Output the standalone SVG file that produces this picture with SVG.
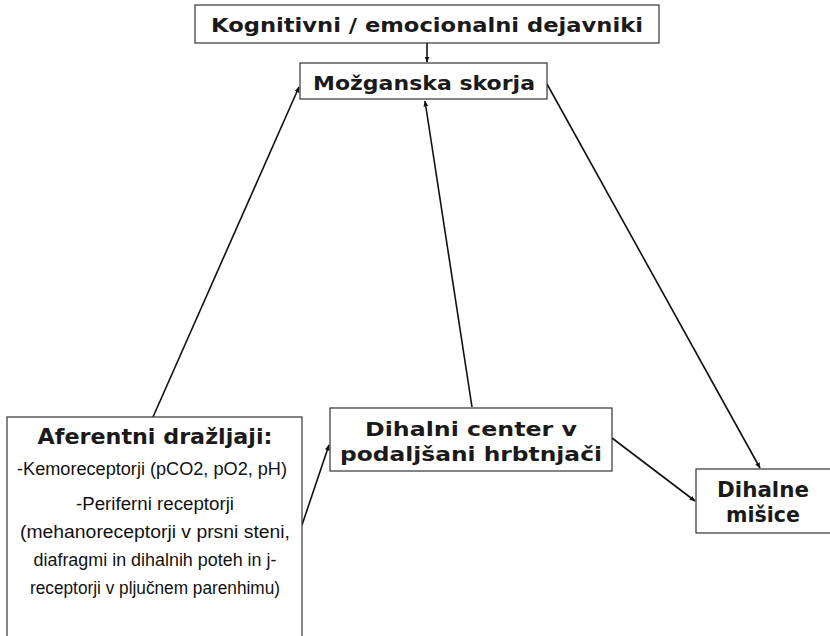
<svg xmlns="http://www.w3.org/2000/svg" width="830" height="636" viewBox="0 0 830 636">
<style>
.box{fill:#fff;stroke:#333;stroke-width:1.2}
.h{font-family:"DejaVu Sans",Verdana,sans-serif;font-weight:bold;fill:#1a1a1a;text-anchor:middle}
.b{font-family:"Liberation Sans",Arial,sans-serif;fill:#111;text-anchor:middle;font-size:17.5px}
.c{stroke:#111;stroke-width:1.6;fill:none;marker-end:url(#ah)}
</style>
<defs>
<marker id="ah" viewBox="0 0 10 10" refX="9" refY="5" markerWidth="6" markerHeight="6" orient="auto" markerUnits="userSpaceOnUse">
<path d="M0,1 L10,5 L0,9 z" fill="#111"/>
</marker>
</defs>
<rect width="830" height="636" fill="#fff"/>
<g id="connectors">
<line class="c" x1="427" y1="43" x2="427" y2="62"/>
<line class="c" x1="153" y1="417" x2="299" y2="87"/>
<line class="c" x1="472" y1="407" x2="425" y2="101"/>
<line class="c" x1="547" y1="84" x2="760" y2="468"/>
<line class="c" x1="302" y1="525" x2="329" y2="445"/>
<line class="c" x1="612" y1="438" x2="695" y2="501"/>
</g>
<g id="kognitivni">
<rect class="box" x="195" y="5" width="464" height="38"/>
<text class="h" x="427" y="32" font-size="20" textLength="432" lengthAdjust="spacingAndGlyphs">Kognitivni / emocionalni dejavniki</text>
</g>
<g id="mozganska">
<rect class="box" x="300" y="63" width="247" height="36"/>
<text class="h" x="424" y="90" font-size="20" textLength="222" lengthAdjust="spacingAndGlyphs">Možganska skorja</text>
</g>
<g id="aferentni">
<rect class="box" x="7" y="417" width="295" height="225"/>
<text class="h" x="155" y="444" font-size="22" textLength="235" lengthAdjust="spacingAndGlyphs">Aferentni dražljaji:</text>
<text class="b" x="152" y="475" textLength="270" lengthAdjust="spacingAndGlyphs">-Kemoreceptorji (pCO2, pO2, pH)</text>
<text class="b" x="155" y="510" textLength="158" lengthAdjust="spacingAndGlyphs">-Periferni receptorji</text>
<text class="b" x="155" y="538" textLength="270" lengthAdjust="spacingAndGlyphs">(mehanoreceptorji v prsni steni,</text>
<text class="b" x="155" y="566" textLength="243" lengthAdjust="spacingAndGlyphs">diafragmi in dihalnih poteh in j-</text>
<text class="b" x="155" y="594" textLength="250" lengthAdjust="spacingAndGlyphs">receptorji v pljučnem parenhimu)</text>
</g>
<g id="dihalni-center">
<rect class="box" x="330" y="408" width="282" height="63"/>
<text class="h" x="471" y="436" font-size="20" textLength="212" lengthAdjust="spacingAndGlyphs">Dihalni center v</text>
<text class="h" x="471" y="461" font-size="20" textLength="262" lengthAdjust="spacingAndGlyphs">podaljšani hrbtnjači</text>
</g>
<g id="dihalne-misice">
<rect class="box" x="696" y="469" width="140" height="64"/>
<text class="h" x="763" y="497" font-size="22" textLength="92" lengthAdjust="spacingAndGlyphs">Dihalne</text>
<text class="h" x="763" y="522" font-size="22" textLength="74" lengthAdjust="spacingAndGlyphs">mišice</text>
</g>
</svg>
